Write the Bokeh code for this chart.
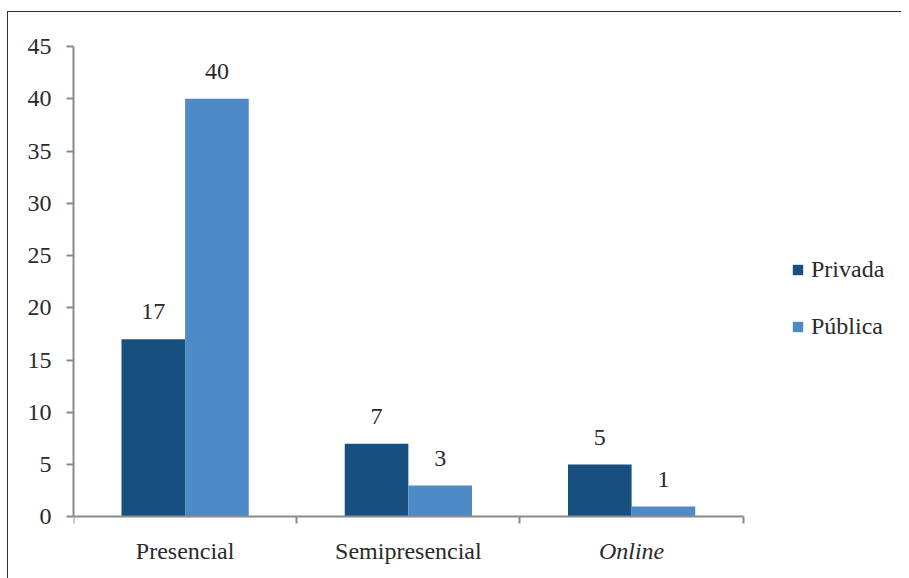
from bokeh.plotting import figure
from bokeh.models import Range1d, FixedTicker, Legend, LegendItem, ColumnDataSource
from bokeh.core.properties import value
from bokeh.embed import file_html
from bokeh.resources import INLINE

# Course counts by modality and institution type
categories = ["Presencial", "Semipresencial", "Online"]
category_styles = ["normal", "normal", "italic"]
privada = [17, 7, 5]
publica = [40, 3, 1]
series_names = ["Privada", "Pública"]
y_ticks = [0, 5, 10, 15, 20, 25, 30, 35, 40, 45]

FONT = "Liberation Serif"
FS = "24px"
DARK = "#17507F"
LIGHT = "#4F8AC8"
AXIS = "#8a8a8a"
TEXT = "#2a2a2a"

n = len(categories)
bar_w = 0.285
centers = [i + 0.5 for i in range(n)]

# The frame reaches below zero and past the last category so that the
# category names and the legend sit inside it; axes are bounded instead.
p = figure(frame_width=826, frame_height=532, output_backend="svg",
           toolbar_location=None,
           x_range=Range1d(0, 3.7), y_range=Range1d(-5.9, 45),
           min_border_left=65, min_border_right=2, min_border_top=34,
           min_border_bottom=0)
p.styles = {"margin-left": "7px", "margin-top": "11px",
            "border-left": "1px solid #333", "border-top": "1px solid #333"}
p.outline_line_color = None
p.grid.visible = False

src_priv = ColumnDataSource(dict(x=[c - bar_w / 2 for c in centers], top=privada,
                                 lab=[str(v) for v in privada],
                                 ly=[v + 2.6 for v in privada]))
src_pub = ColumnDataSource(dict(x=[c + bar_w / 2 for c in centers], top=publica,
                                lab=[str(v) for v in publica],
                                ly=[v + 2.6 for v in publica]))

r_priv = p.vbar(x="x", top="top", bottom=0, width=bar_w, source=src_priv,
                fill_color=DARK, line_color=None)
r_pub = p.vbar(x="x", top="top", bottom=0, width=bar_w, source=src_pub,
               fill_color=LIGHT, line_color=None)

for src in (src_priv, src_pub):
    p.text(x="x", y="ly", text="lab", source=src, text_align="center",
           text_baseline="middle", text_font=value(FONT),
           text_font_size=FS, text_color=TEXT)

# category names under the axis
cat_src = ColumnDataSource(dict(x=centers, y=[-3.25] * n, name=categories,
                                style=category_styles))
p.text(x="x", y="y", text="name", source=cat_src, text_align="center",
       text_baseline="middle", text_font=value(FONT), text_font_size=FS,
       text_font_style="style", text_color=TEXT)

# y axis
p.yaxis.bounds = (0, 45)
p.yaxis.ticker = FixedTicker(ticks=y_ticks)
p.yaxis.axis_line_color = AXIS
p.yaxis.axis_line_width = 2
p.yaxis.major_tick_line_color = AXIS
p.yaxis.major_tick_line_width = 2
p.yaxis.major_tick_out = 7
p.yaxis.major_tick_in = 0
p.yaxis.minor_tick_line_color = None
p.yaxis.major_label_standoff = 15
p.yaxis.major_label_text_font = FONT
p.yaxis.major_label_text_font_size = FS
p.yaxis.major_label_text_color = TEXT

# x axis at zero, ticks on the category boundaries
p.xaxis.fixed_location = 0
p.xaxis.bounds = (0, n)
p.xaxis.ticker = FixedTicker(ticks=list(range(n + 1)))
p.xaxis.major_label_text_alpha = 0
p.xaxis.major_label_text_font_size = "1px"
p.xaxis.axis_line_color = AXIS
p.xaxis.axis_line_width = 2
p.xaxis.major_tick_line_color = AXIS
p.xaxis.major_tick_line_width = 2
p.xaxis.major_tick_out = 7
p.xaxis.major_tick_in = 0
p.xaxis.minor_tick_line_color = None

legend = Legend(items=[LegendItem(label=series_names[0], renderers=[r_priv]),
                       LegendItem(label=series_names[1], renderers=[r_pub])],
                location=(718, 238), orientation="vertical",
                label_text_font=FONT, label_text_font_size=FS,
                label_text_color=TEXT, glyph_width=13, glyph_height=13,
                label_height=24, spacing=30, label_standoff=7,
                border_line_color=None, background_fill_alpha=0,
                margin=0, padding=0)
p.add_layout(legend, "center")

open("out.html", "w").write(file_html(p, INLINE))
